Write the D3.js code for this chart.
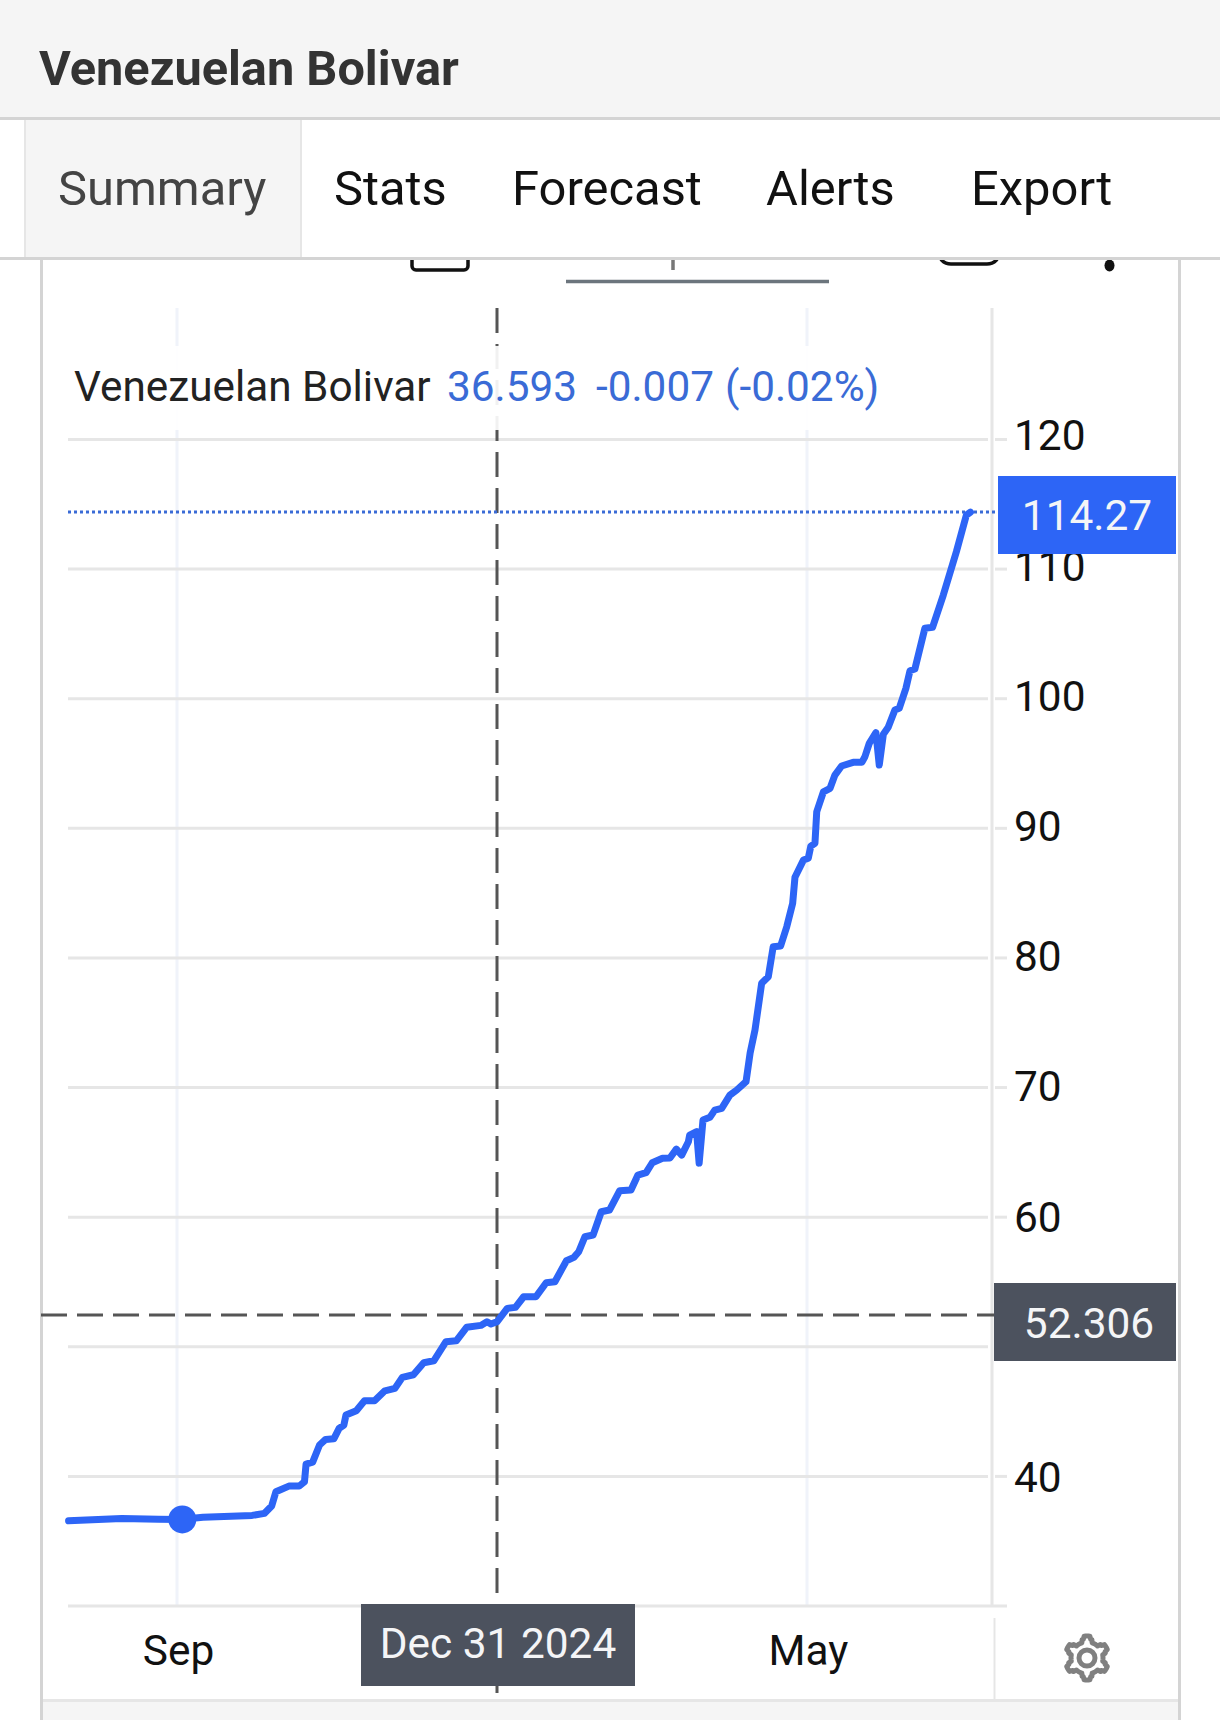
<!DOCTYPE html>
<html>
<head>
<meta charset="utf-8">
<title>Venezuelan Bolivar</title>
<script src="https://cdnjs.cloudflare.com/ajax/libs/d3/7.9.0/d3.min.js"></script>
<style>
	html, body { margin: 0; padding: 0; background: #fff; }
	svg { display: block; font-family: Roboto, sans-serif; }
</style>
</head>
<body>
<div id="chart"></div>
<script>
// Days since 1 Sep 2024
const days = [
	-41, -20.9, -7, 1.4, 9.8, 28.4, 33.1, 35.8, 37.4, 42.3, 46.2, 48.2, 48.8, 51.3, 53.9, 56.2, 59.3, 61.3, 63.1, 63.9,
	67.8, 70.9, 74.7, 78.6, 82.4, 85.2, 89.4, 93.3, 97.1, 101.7, 105.6, 109.5, 114.9, 117.2, 118.7, 121,
	125, 128.2, 131.4, 136.2, 140.2, 143.6, 148.1, 151, 152.9, 155.3, 158.5, 161.7, 164.9, 168.9, 173.3, 176, 179.2,
	181.6, 185.6, 188.5, 191, 193.1, 195.7, 196.2, 198.9, 199.9, 201.4, 204.1, 206, 208.7, 211.9, 214.6, 218.2,
	219.8, 221.7, 224.3, 226.9, 228.8, 231.7, 234.1, 236.4, 237.3, 240.6, 242.5, 243.5, 245.1, 245.8, 248.4, 251,
	252.9, 255.5, 260, 263.4, 264.6, 266.3, 268.9, 270.2, 271.8, 273.7, 276.3, 278, 280.6, 282.2, 284.1, 288, 291,
	295.2, 300.3, 304.2, 305.8,
]
const rates = [
	36.57, 36.76, 36.7, 36.68, 36.84, 36.99, 37.15, 37.71, 38.81, 39.25, 39.25, 39.58, 40.95, 41.1, 42.42, 42.85, 42.9, 43.7, 43.96, 44.73,
	45.06, 45.83, 45.83, 46.6, 46.79, 47.64, 47.84, 48.77, 48.92, 50.39, 50.46, 51.5, 51.65, 51.93, 51.75, 51.93,
	52.96, 53.04, 53.86, 53.86, 54.94, 55.02, 56.64, 56.9, 57.33, 58.49, 58.62, 60.42, 60.55, 62.04, 62.09, 63.25, 63.43,
	64.2, 64.54, 64.56, 65.25, 64.79, 65.82, 66.33, 66.59, 64.17, 67.49, 67.7, 68.26, 68.4, 69.42, 69.81, 70.45,
	72.66, 74.44, 78.04, 78.55, 80.86, 80.92, 82.41, 84.21, 86.22, 87.55, 87.69, 88.63, 88.84, 91.28, 92.82, 93.09,
	94.11, 94.81, 95.09, 95.09, 95.52, 96.56, 97.38, 94.88, 97.25, 97.79, 99.13, 99.26, 100.8, 102.16, 102.29, 105.43, 105.51,
	108, 111.34, 114.17, 114.4,
]

const yTicks = [40, 50, 60, 70, 80, 90, 100, 110, 120]
const yTickLabels = ["40", "", "60", "70", "80", "90", "100", "110", "120"]
const monthDays = [0, 242]
const monthLabels = ["Sep", "May"]
const tabNames = ["Summary", "Stats", "Forecast", "Alerts", "Export"]

const seriesName = "Venezuelan Bolivar"
const legendValues = ["36.593", "-0.007", "(-0.02%)"]
const lastRate = 114.4
const lastRateLabel = "114.27"
const cursorDay = 121
const cursorRate = 52.45
const cursorRateLabel = "52.306"
const cursorDateLabel = "Dec 31 2024"
const markerDay = 2
const markerRate = 36.68

const blue = "#2d65f6"
const gridColor = "#e6e6e6"
const vGridColor = "#f0f3fa"
const slate = "#4c525e"
const panelGray = "#f5f5f5"
const borderGray = "#d4d4d4"
const labelSize = "42.4px"

const svg = d3
	.select("#chart")
	.append("svg")
	.attr("width", 1220)
	.attr("height", 1720)

// Plot scales: the time axis is not quite even, so three anchors
const x = d3.scaleLinear().domain([0, 121, 242]).range([177, 497, 807])
const y = d3.scaleLinear().domain([30, 120]).range([1606, 439.5])
// Price labels drift a little against the gridlines in the picture
const yLabel = d3.scaleLinear().domain([40, 120]).range([1477.8, 436.4])

// Page furniture
svg.append("rect").attr("width", 1220).attr("height", 117).attr("fill", panelGray)
svg.append("rect").attr("y", 117).attr("width", 1220).attr("height", 3).attr("fill", borderGray)
svg.append("text")
	.attr("x", 39)
	.attr("y", 85)
	.attr("fill", "#333")
	.style("font-size", "48.7px")
	.style("font-weight", 700)
	.text(seriesName)

// Panel borders, with the toolbar clipped under the tabs
svg.append("rect").attr("x", 40).attr("y", 258).attr("width", 3).attr("height", 1462).attr("fill", borderGray)
svg.append("rect").attr("x", 1178).attr("y", 258).attr("width", 3).attr("height", 1462).attr("fill", borderGray)
svg.append("rect").attr("x", 43).attr("y", 1700).attr("width", 1135).attr("height", 20).attr("fill", panelGray)
svg.append("rect").attr("x", 43).attr("y", 1699).attr("width", 1135).attr("height", 3).attr("fill", gridColor)

const toolbar = svg.append("g")
toolbar.append("rect")
	.attr("x", 412).attr("y", 240).attr("width", 56).attr("height", 30).attr("rx", 4)
	.attr("fill", "none").attr("stroke", "#111").attr("stroke-width", 3.5)
toolbar.append("rect")
	.attr("x", 938).attr("y", 225).attr("width", 62).attr("height", 39).attr("rx", 13)
	.attr("fill", "none").attr("stroke", "#111").attr("stroke-width", 3.5)
toolbar.append("line")
	.attr("x1", 673).attr("x2", 673).attr("y1", 255).attr("y2", 270)
	.attr("stroke", "#777").attr("stroke-width", 3.5)
toolbar.append("line")
	.attr("x1", 566).attr("x2", 829).attr("y1", 281.5).attr("y2", 281.5)
	.attr("stroke", "#6c757d").attr("stroke-width", 3.5)
toolbar.append("ellipse").attr("cx", 1109.5).attr("cy", 265.5).attr("rx", 5).attr("ry", 6).attr("fill", "#111")

// Tabs
svg.append("rect").attr("y", 120).attr("width", 1220).attr("height", 137).attr("fill", "#fff")
svg.append("rect").attr("x", 24).attr("y", 120).attr("width", 277).attr("height", 137).attr("fill", panelGray)
svg.append("rect").attr("x", 24).attr("y", 120).attr("width", 2).attr("height", 137).attr("fill", gridColor)
svg.append("rect").attr("x", 300).attr("y", 120).attr("width", 2).attr("height", 137).attr("fill", gridColor)
svg.append("rect").attr("y", 257).attr("width", 1220).attr("height", 3).attr("fill", borderGray)

const tabX = d3.scaleOrdinal().domain(tabNames).range([58, 334, 512, 766, 971])
svg.append("g")
	.selectAll("text")
	.data(tabNames)
	.join("text")
	.attr("x", (d) => tabX(d))
	.attr("y", 205)
	.attr("fill", (d, i) => (i === 0 ? "#444" : "#111"))
	.style("font-size", "48.9px")
	.text((d) => d)

// Vertical gridlines
svg.append("g")
	.selectAll("line")
	.data(monthDays)
	.join("line")
	.attr("x1", (d) => x(d))
	.attr("x2", (d) => x(d))
	.attr("y1", 308)
	.attr("y2", 1606)
	.attr("stroke", vGridColor)
	.attr("stroke-width", 3)

// Horizontal gridlines
svg.append("g")
	.selectAll("line")
	.data(yTicks)
	.join("line")
	.attr("x1", 68)
	.attr("x2", 988)
	.attr("y1", (d) => y(d))
	.attr("y2", (d) => y(d))
	.attr("stroke", gridColor)
	.attr("stroke-width", 3)

// Price scale border and bottom rule
svg.append("line")
	.attr("x1", 992).attr("x2", 992).attr("y1", 308).attr("y2", 1606)
	.attr("stroke", gridColor).attr("stroke-width", 3)
svg.append("line")
	.attr("x1", 68).attr("x2", 1007).attr("y1", y(30)).attr("y2", y(30))
	.attr("stroke", gridColor).attr("stroke-width", 3)
svg.append("line")
	.attr("x1", 994.5).attr("x2", 994.5).attr("y1", 1618).attr("y2", 1699)
	.attr("stroke", gridColor).attr("stroke-width", 2)

// Crosshair
svg.append("line")
	.attr("x1", x(cursorDay)).attr("x2", x(cursorDay)).attr("y1", 308).attr("y2", 1693)
	.attr("stroke", "#555").attr("stroke-width", 3).attr("stroke-dasharray", "25,11")
svg.append("line")
	.attr("x1", 41).attr("x2", 994).attr("y1", y(cursorRate)).attr("y2", y(cursorRate))
	.attr("stroke", "#555").attr("stroke-width", 3).attr("stroke-dasharray", "26,10")

// Legend sits on a nearly opaque strip
svg.append("rect")
	.attr("x", 68).attr("y", 346).attr("width", 820).attr("height", 84)
	.attr("fill", "#fff").attr("opacity", 0.92)
svg.append("text")
	.attr("x", 74).attr("y", 401)
	.attr("fill", "#222")
	.style("font-size", "42.3px")
	.text(seriesName)
const legendX = d3.scaleOrdinal().domain(legendValues).range([447, 596, 725])
svg.append("g")
	.selectAll("text")
	.data(legendValues)
	.join("text")
	.attr("x", (d) => legendX(d))
	.attr("y", 401)
	.attr("fill", "#3a6bd6")
	.style("font-size", "42.3px")
	.text((d) => d)

// Last price line
svg.append("line")
	.attr("x1", 68).attr("x2", 998).attr("y1", y(lastRate)).attr("y2", y(lastRate))
	.attr("stroke", "#3a6bd6").attr("stroke-width", 3).attr("stroke-dasharray", "3,3")

// Series
const rateLine = d3
	.line()
	.x((d) => x(d[0]))
	.y((d) => y(d[1]))

svg.append("path")
	.datum(d3.zip(days, rates))
	.attr("fill", "none")
	.attr("stroke", blue)
	.attr("stroke-width", 7)
	.attr("stroke-linejoin", "round")
	.attr("stroke-linecap", "round")
	.attr("d", rateLine)

svg.append("circle")
	.attr("cx", x(markerDay)).attr("cy", y(markerRate)).attr("r", 14)
	.attr("fill", blue)

// Y axis
const yAxis = d3
	.axisRight(yLabel)
	.tickValues(yTicks)
	.tickSize(0)
	.tickPadding(0)
	.tickFormat((d, i) => yTickLabels[i])

const yAxisG = svg.append("g").attr("transform", "translate(1014,0)").call(yAxis)
yAxisG.select(".domain").remove()
yAxisG.selectAll("text")
	.attr("fill", "#111")
	.attr("dy", "0.32em")
	.style("font-family", "Roboto, sans-serif")
	.style("font-size", labelSize)

svg.append("g")
	.selectAll("line")
	.data(yTicks)
	.join("line")
	.attr("x1", 995)
	.attr("x2", 1007)
	.attr("y1", (d) => y(d))
	.attr("y2", (d) => y(d))
	.attr("stroke", gridColor)
	.attr("stroke-width", 3)

// X axis
const xAxis = d3
	.axisBottom(x)
	.tickValues(monthDays)
	.tickSize(0)
	.tickPadding(0)
	.tickFormat((d, i) => monthLabels[i])

const xAxisG = svg.append("g").attr("transform", "translate(1,1635)").call(xAxis)
xAxisG.select(".domain").remove()
xAxisG.selectAll("text")
	.attr("fill", "#111")
	.style("font-family", "Roboto, sans-serif")
	.style("font-size", labelSize)

// Price and date boxes
function addBox(bx, by, bw, bh, fill, label, tx, ty) {
	svg.append("rect").attr("x", bx).attr("y", by).attr("width", bw).attr("height", bh).attr("fill", fill)
	svg.append("text")
		.attr("x", tx)
		.attr("y", ty)
		.attr("text-anchor", "middle")
		.attr("fill", "#f4f5f7")
		.style("font-size", labelSize)
		.text(label)
}
addBox(998, 476, 178, 78, blue, lastRateLabel, 1087, 530)
addBox(994, 1283, 182, 78, slate, cursorRateLabel, 1089, 1338)
addBox(361, 1604, 274, 82, slate, cursorDateLabel, 498, 1658)

// Settings gear
const gearRadii = d3.range(96).map((i) => {
	const phase = (i % 16) / 16
	return phase <= 0.13 || phase >= 0.87 ? 22 : phase >= 0.31 && phase <= 0.69 ? 16 : 19
})
const gearLine = d3
	.lineRadial()
	.angle((d, i) => (i / gearRadii.length) * 2 * Math.PI)
	.radius((d) => d)
	.curve(d3.curveLinearClosed)
const gear = svg.append("g").attr("transform", "translate(1087,1658)")
gear.append("path")
	.attr("d", gearLine(gearRadii))
	.attr("fill", "none")
	.attr("stroke", "#808080")
	.attr("stroke-width", 5)
	.attr("stroke-linejoin", "round")
gear.append("circle").attr("r", 8).attr("fill", "none").attr("stroke", "#808080").attr("stroke-width", 5)
</script>
</body>
</html>
